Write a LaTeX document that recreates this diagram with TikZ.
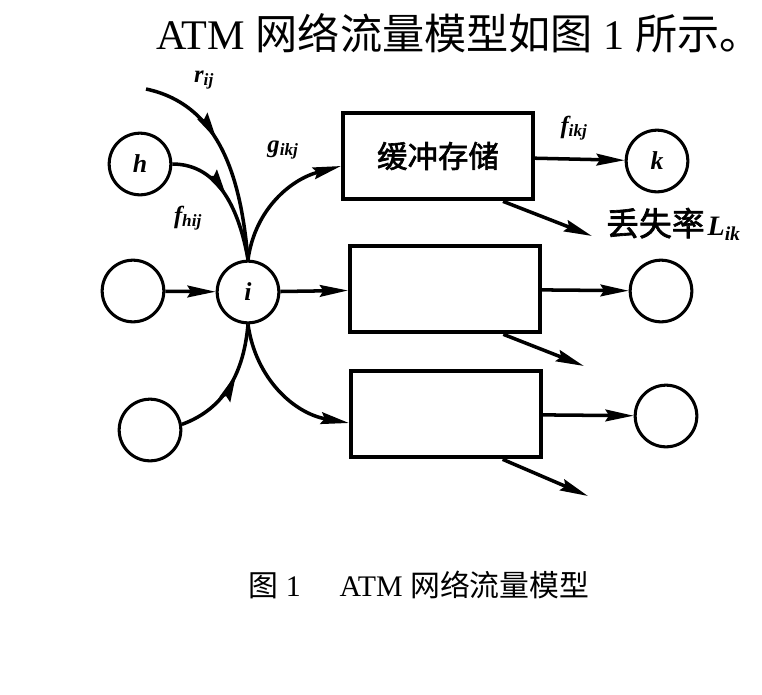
\documentclass[tikz,border=0pt]{standalone}
\usepackage{fontspec}
\setmainfont{Liberation Serif}
\newfontfamily\cjk{Noto Sans CJK SC}
\newfontfamily\cjkbf{Noto Sans CJK SC}[FakeBold=2]
\usetikzlibrary{arrows.meta,positioning,calc,decorations.markings}
\newcommand{\flowlbl}[2]{{\bfseries\itshape #1\textsubscript{#2}}}
\tikzset{
  station/.style={
    draw,
    circle,
    line width=2.6pt,
    minimum size=1.85cm,
    inner sep=0pt,
    font=\fontsize{22}{24}\selectfont\bfseries\itshape
  },
  buffer/.style={
    draw,
    rectangle,
    line width=3.4pt,
    minimum width=5.7cm,
    minimum height=2.6cm,
    inner sep=0pt,
    font=\cjkbf\fontsize{26}{28}\selectfont
  },
  flow/.style={
    line width=3pt,
    -{Stealth[length=24pt,width=10pt,inset=3pt]}
  },
  midarrow/.style={
    -,
    postaction={decorate},
    decoration={markings,
      mark=at position #1 with {\arrow{Stealth[length=24pt,width=10pt,inset=3pt]}}}
  },
  flowtext/.style={font=\fontsize{21}{23}\selectfont}
}

\begin{document}
\begin{tikzpicture}[x=0.03cm,y=-0.03cm]
    \useasboundingbox (0,0) rectangle (762,694);

    \path{
      node[station] (h) at (140,164) {h}
      node[station] (a) at (133,291) {}
      node[station] (b) at (150,430) {}
      node[station] (i) at (248,292) {i}
      node[buffer] (buf) at (438,156) {缓冲存储}
      node[buffer] (box2) at (445,289) {}
      node[buffer] (box3) at (446,414) {}
      node[station] (k) at (657,161) {k}
      node[station] (c) at (661,291) {}
      node[station] (d) at (666,416) {}
      coordinate (rs) at (146,89)
      coordinate (loss1) at (592,236)
      coordinate (loss2) at (584,366)
      coordinate (loss3) at (588,496)
    };

    % labels
    \node[flowtext] (rlbl) at (204,80) {\flowlbl{r}{ij}};
    \node[flowtext] (flbl) at (188,218) {\flowlbl{f}{hij}};
    \node[flowtext] (glbl) at (283,150) {\flowlbl{g}{ikj}};
    \node[flowtext] (fklbl) at (574,128) {\flowlbl{f}{ikj}};
    \node[anchor=west,inner sep=0pt] (losslbl) at (606,224)
      {{\cjkbf\fontsize{28}{30}\selectfont 丢失率}\hspace{0.25em}{\fontsize{24}{26}\selectfont\flowlbl{L}{ik}}};

    \path[every edge/.append style={flow}]{
      (rs) edge[midarrow=0.42, out=-12, in=95] (i.north)
      (h.east) edge[midarrow=0.5, out=0, in=100] (i.north)
      (i.north) edge[out=82, in=195] ([yshift=-0.3cm]buf.west)
      (a) edge (i)
      (i) edge (box2)
      (b.10) edge[midarrow=0.6, out=20, in=-95] (i.south)
      (i.south) edge[out=-82, in=170] ([yshift=-0.27cm]box3.west)
      (buf) edge (k)
      (box2) edge (c)
      (box3) edge (d)
      ([xshift=1.95cm]buf.south) edge (loss1)
      ([xshift=1.75cm]box2.south) edge (loss2)
      ([xshift=1.7cm]box3.south) edge (loss3)
    };

    % title and caption
    \node[anchor=west] (title) at (152,33)
      {\fontsize{36}{40}\selectfont ATM {\cjk 网络流量模型如图} 1 {\cjk 所示。}};
    \node (caption) at (419,585)
      {\fontsize{25.5}{28}\selectfont {\cjk 图} 1\hspace{1.3em}ATM {\cjk 网络流量模型}};
\end{tikzpicture}
\end{document}
